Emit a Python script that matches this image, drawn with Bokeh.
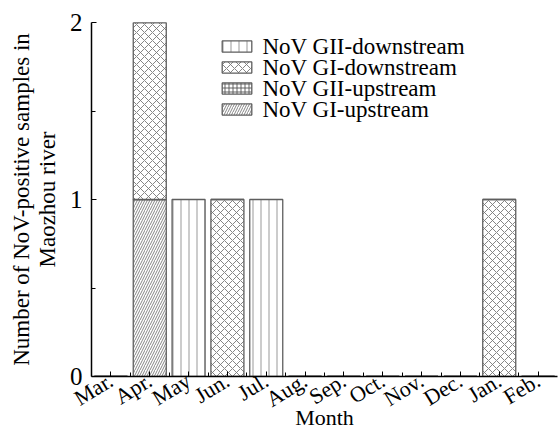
import numpy as np
from bokeh.plotting import figure
from bokeh.models import ColumnDataSource, FixedTicker, Legend, LegendItem, Range1d, Label
from bokeh.embed import file_html
from bokeh.resources import INLINE

months = ["Mar.", "Apr.", "May", "Jun.", "Jul.", "Aug.", "Sep.", "Oct.", "Nov.", "Dec.", "Jan.", "Feb."]
gi_upstream = [0, 1, 0, 0, 0, 0, 0, 0, 0, 0, 0, 0]
gii_upstream = [0, 0, 0, 0, 0, 0, 0, 0, 0, 0, 0, 0]
gi_downstream = [0, 1, 0, 1, 0, 0, 0, 0, 0, 0, 1, 0]
gii_downstream = [0, 0, 1, 0, 1, 0, 0, 0, 0, 0, 0, 0]
series_keys = ["gi_up", "gii_up", "gi_down", "gii_down"]
series_names = ["NoV GI-upstream", "NoV GII-upstream", "NoV GI-downstream", "NoV GII-downstream"]
y_ticks = [0, 1, 2]
y_minor = [0.5, 1.5]

FONT = "Liberation Serif"

xs = list(range(len(months)))
src = ColumnDataSource(dict(x=xs, gi_up=gi_upstream, gii_up=gii_upstream,
                            gi_down=gi_downstream, gii_down=gii_downstream))

p = figure(width=558, height=433, x_range=Range1d(-0.5, len(months) - 0.5),
           y_range=Range1d(0, 2), output_backend="svg", toolbar_location=None,
           min_border_left=91, min_border_top=22, min_border_right=1, min_border_bottom=56)
p.outline_line_color = None
p.xgrid.visible = False
p.ygrid.visible = False
p.background_fill_color = "white"
p.border_fill_color = "white"

rs = p.vbar_stack(series_keys, x="x", width=0.85, source=src,
                  fill_color="white", line_color="#5e5e5e", line_width=1.3,
                  hatch_pattern=["/", "+", "x", "|"],
                  hatch_color=["#777777", "#555555", "#777777", "#999999"],
                  hatch_scale=[5, 4, 8, 8], hatch_weight=[0.9, 0.9, 0.9, 1.0])

# legend: glyph boxes from the Legend model, names as real text labels beside them
LEG_X, LEG_Y, ROW_H, ROW_GAP = 127, 260, 14, 7
items = [LegendItem(label=" ", renderers=[r]) for r in rs][::-1]
legend = Legend(items=items, location=(LEG_X, LEG_Y), orientation="vertical",
                label_text_font=FONT, label_text_font_size="1px",
                glyph_width=37, glyph_height=ROW_H, label_height=ROW_H, label_width=1,
                spacing=ROW_GAP, padding=0, margin=0, label_standoff=0,
                background_fill_alpha=0, border_line_color=None)
p.add_layout(legend, "center")
for i, name in enumerate(series_names):
    p.add_layout(Label(x=LEG_X + 44, y=LEG_Y + i * (ROW_H + ROW_GAP) + ROW_H / 2,
                       x_units="screen", y_units="screen", text=name,
                       text_font=FONT, text_font_size="23px", text_color="black",
                       text_baseline="middle", text_align="left"))

xa = p.xaxis[0]
xa.ticker = FixedTicker(ticks=xs, minor_ticks=[i + 0.5 for i in xs[:-1]])
xa.major_label_overrides = {i: m for i, m in zip(xs, months)}
xa.major_label_orientation = 0.55
xa.axis_label = "Month"
ya = p.yaxis[0]
ya.ticker = FixedTicker(ticks=y_ticks, minor_ticks=y_minor)
ya.axis_label = "Number of NoV-positive samples in\nMaozhou river"

for ax in (xa, ya):
    ax.axis_line_color = "black"
    ax.axis_line_width = 1.5
    ax.major_tick_in = 5
    ax.major_tick_out = 0
    ax.minor_tick_in = 4
    ax.minor_tick_out = 0
    ax.major_tick_line_color = "black"
    ax.minor_tick_line_color = "black"
    ax.major_label_text_font = FONT
    ax.axis_label_text_font = FONT
    ax.axis_label_text_font_style = "normal"
    ax.axis_label_text_color = "black"
    ax.major_label_text_color = "black"

xa.axis_label_text_font_size = "22px"
xa.major_label_text_font_size = "22px"
xa.major_label_standoff = 2
xa.axis_label_standoff = -20
ya.axis_label_text_font_size = "23px"
ya.axis_label_text_line_height = 1.05
ya.major_label_text_font_size = "25px"
ya.major_label_standoff = 9
ya.axis_label_standoff = 7

open("out.html", "w").write(file_html(p, INLINE))
